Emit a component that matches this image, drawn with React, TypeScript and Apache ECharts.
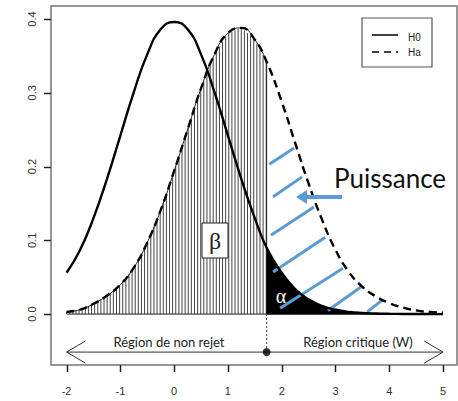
import React, { useEffect, useRef } from "react";
import * as echarts from "echarts";

// ---- data ----
const X_VALUES = [-2, -1.75, -1.5, -1.25, -1, -0.75, -0.5, -0.25, 0, 0.25, 0.5, 0.75, 1, 1.25, 1.5, 1.72, 2, 2.25, 2.5, 2.75, 3, 3.25, 3.5, 3.75, 4, 4.25, 4.5, 4.75, 5];
const H0_VALUES = [0.056, 0.087, 0.13, 0.183, 0.242, 0.301, 0.352, 0.386, 0.396, 0.386, 0.352, 0.301, 0.242, 0.183, 0.13, 0.09, 0.056, 0.034, 0.02, 0.011, 0.006, 0.003, 0.0015, 0.0008, 0.0004, 0.0002, 0.0001, 0.0001, 0];
const HA_VALUES = [0.003, 0.006, 0.014, 0.025, 0.04, 0.063, 0.097, 0.141, 0.194, 0.25, 0.306, 0.352, 0.381, 0.388, 0.372, 0.342, 0.288, 0.232, 0.177, 0.128, 0.087, 0.057, 0.037, 0.024, 0.015, 0.009, 0.005, 0.003, 0.002];
const CRITICAL = 1.72;
const X_TICKS = [-2, -1, 0, 1, 2, 3, 4, 5];
const Y_TICKS = [0, 0.1, 0.2, 0.3, 0.4];
// blue "puissance" strokes: [x1, y1, x2, y2]
const POWER_SEGMENTS = [
  [1.77, 0.203, 2.23, 0.225],
  [1.84, 0.159, 2.38, 0.186],
  [1.8, 0.107, 2.6, 0.145],
  [1.84, 0.057, 2.81, 0.104],
  [1.97, 0.008, 3.14, 0.062],
  [2.86, 0.005, 3.48, 0.037],
  [3.59, 0.003, 3.87, 0.019],
];
const ARROW_Y = -0.0515;
const ARROW_LEFT = -2;
const ARROW_RIGHT = 5;

// ---- axis extent & styling constants ----
const X_MIN = -2.29;
const X_MAX = 5.26;
const Y_MIN = -0.069;
const Y_MAX = 0.4176;
const GRID_LEFT = 51;
const GRID_TOP = 6;
const GRID_RIGHT = 1;
const GRID_BOTTOM = 36;
const W = 458;
const H = 401;
const TICK_LEN = 7;
const HATCH_STEP = 0.058;
const HEAD_DX = 0.35;
const HEAD_DY = 0.015;
const BLUE = "#5b9bd5";
const FRAME = "#777";

function interp(xs: number[], ys: number[], x: number) {
  for (let i = 0; i < xs.length - 1; i++) {
    if (x >= xs[i] && x <= xs[i + 1]) {
      const t = (x - xs[i]) / (xs[i + 1] - xs[i]);
      return ys[i] + t * (ys[i + 1] - ys[i]);
    }
  }
  return ys[ys.length - 1];
}

export default function App() {
  const ref = useRef<HTMLDivElement>(null);
  useEffect(() => {
    if (!ref.current) return;
    const chart = echarts.init(ref.current, undefined, { renderer: "svg" });
    const h0 = X_VALUES.map((x, i) => [x, H0_VALUES[i]]);
    const ha = X_VALUES.map((x, i) => [x, HA_VALUES[i]]);
    const haLeft = ha.filter((p) => p[0] <= CRITICAL + 1e-9);
    const h0Right = h0.filter((p) => p[0] >= CRITICAL - 1e-9);
    const haCrit = interp(X_VALUES, HA_VALUES, CRITICAL);

    // tick marks from the axis scale (linear mapping of the grid box)
    const plotW = W - GRID_LEFT - GRID_RIGHT;
    const plotH = H - GRID_TOP - GRID_BOTTOM;
    const bottomY = GRID_TOP + plotH;
    const tickGraphics: any[] = [];
    X_TICKS.forEach((t) => {
      const px = Math.round(GRID_LEFT + ((t - X_MIN) / (X_MAX - X_MIN)) * plotW) + 0.5;
      tickGraphics.push({ type: "line", shape: { x1: px, y1: bottomY, x2: px, y2: bottomY + TICK_LEN }, style: { stroke: "#222", lineWidth: 1.5 }, z: 30 });
    });
    Y_TICKS.forEach((t) => {
      const py = Math.round(GRID_TOP + ((Y_MAX - t) / (Y_MAX - Y_MIN)) * plotH) + 0.5;
      tickGraphics.push({ type: "line", shape: { x1: GRID_LEFT - TICK_LEN, y1: py, x2: GRID_LEFT, y2: py }, style: { stroke: "#222", lineWidth: 1.5 }, z: 30 });
    });

    const option: any = {
      animation: false,
      grid: {
        left: GRID_LEFT,
        top: GRID_TOP,
        right: GRID_RIGHT,
        bottom: GRID_BOTTOM,
        show: true,
        borderColor: FRAME,
        borderWidth: 1.5,
      },
      xAxis: {
        type: "value",
        min: X_MIN,
        max: X_MAX,
        axisLine: { show: false, onZero: false },
        splitLine: { show: false },
        axisTick: { show: false },
        axisLabel: {
          customValues: X_TICKS,
          margin: 20,
          fontFamily: "Liberation Sans",
          fontSize: 11,
          color: "#333",
          formatter: (v: number) => String(v),
        },
      },
      yAxis: {
        type: "value",
        min: Y_MIN,
        max: Y_MAX,
        axisLine: { show: false, onZero: false },
        splitLine: { show: false },
        axisTick: { show: false },
        axisLabel: {
          customValues: Y_TICKS,
          rotate: 90,
          margin: 14,
          fontFamily: "Liberation Sans",
          fontSize: 11,
          color: "#333",
          formatter: (v: number) => v.toFixed(1),
        },
      },
      series: [
        {
          // vertical hatch under Ha left of critical value
          type: "custom",
          data: [[0, 0]],
          silent: true,
          z: 1,
          renderItem: (_params: any, api: any) => {
            const children: any[] = [];
            for (let x = X_VALUES[0]; x <= CRITICAL + 1e-9; x += HATCH_STEP) {
              const top = interp(X_VALUES, HA_VALUES, x);
              const p0 = api.coord([x, 0]);
              const p1 = api.coord([x, top]);
              children.push({
                type: "line",
                shape: { x1: p0[0], y1: p0[1], x2: p1[0], y2: p1[1] },
                style: { stroke: "#444", lineWidth: 1 },
              });
            }
            const c0 = api.coord([CRITICAL, 0]);
            const c1 = api.coord([CRITICAL, haCrit]);
            const b0 = api.coord([X_VALUES[0], 0]);
            children.push({
              type: "line",
              shape: { x1: c0[0], y1: c0[1], x2: c1[0], y2: c1[1] },
              style: { stroke: "#222", lineWidth: 1 },
            });
            children.push({
              type: "line",
              shape: { x1: b0[0], y1: b0[1], x2: c0[0], y2: c0[1] },
              style: { stroke: "#222", lineWidth: 1 },
            });
            return { type: "group", children };
          },
        },
        {
          // hatch polygon border
          type: "line",
          data: haLeft,
          smooth: true,
          symbol: "none",
          silent: true,
          lineStyle: { color: "#222", width: 1 },
          z: 2,
        },
        {
          // alpha region
          type: "line",
          data: h0Right,
          smooth: true,
          symbol: "none",
          silent: true,
          lineStyle: { width: 0 },
          areaStyle: { color: "#000", opacity: 1, origin: "auto" },
          z: 3,
        },
        {
          type: "line",
          data: [[CRITICAL, 0], [5, 0]],
          symbol: "none",
          silent: true,
          lineStyle: { color: "#000", width: 1.5 },
          z: 3,
        },
        {
          // power strokes
          type: "custom",
          data: POWER_SEGMENTS,
          silent: true,
          z: 4,
          renderItem: (_params: any, api: any) => {
            const a = api.coord([api.value(0), api.value(1)]);
            const b = api.coord([api.value(2), api.value(3)]);
            return {
              type: "line",
              shape: { x1: a[0], y1: a[1], x2: b[0], y2: b[1] },
              style: { stroke: BLUE, lineWidth: 3 },
            };
          },
        },
        {
          name: "H0",
          type: "line",
          data: h0,
          smooth: true,
          symbol: "none",
          lineStyle: { color: "#000", width: 2.4 },
          z: 5,
        },
        {
          name: "Ha",
          type: "line",
          data: ha,
          smooth: true,
          symbol: "none",
          lineStyle: { color: "#000", width: 2.4, type: [8, 5] },
          z: 5,
        },
        {
          type: "line",
          data: [[CRITICAL, 0], [CRITICAL, ARROW_Y]],
          symbol: "none",
          silent: true,
          lineStyle: { color: "#333", width: 1, type: [2, 2] },
          z: 5,
        },
        {
          type: "line",
          data: [[ARROW_LEFT + HEAD_DX, ARROW_Y + HEAD_DY], [ARROW_LEFT, ARROW_Y], [ARROW_LEFT + HEAD_DX, ARROW_Y - HEAD_DY]],
          symbol: "none",
          silent: true,
          lineStyle: { color: "#333", width: 1 },
          z: 5,
        },
        {
          type: "line",
          data: [[ARROW_LEFT, ARROW_Y], [ARROW_RIGHT, ARROW_Y]],
          symbol: "none",
          silent: true,
          lineStyle: { color: "#333", width: 1 },
          z: 5,
        },
        {
          type: "line",
          data: [[ARROW_RIGHT - HEAD_DX, ARROW_Y + HEAD_DY], [ARROW_RIGHT, ARROW_Y], [ARROW_RIGHT - HEAD_DX, ARROW_Y - HEAD_DY]],
          symbol: "none",
          silent: true,
          lineStyle: { color: "#333", width: 1 },
          z: 5,
        },
        {
          type: "scatter",
          data: [[CRITICAL, ARROW_Y]],
          symbol: "circle",
          symbolSize: 8,
          silent: true,
          itemStyle: { color: "#000" },
          z: 6,
        },
      ],
      graphic: [
        // legend
        { type: "rect", shape: { x: 362, y: 18, width: 70, height: 49 }, style: { fill: "#fff", stroke: "#555", lineWidth: 1.2 }, z: 10 },
        { type: "line", shape: { x1: 372, y1: 35, x2: 398, y2: 35 }, style: { stroke: "#000", lineWidth: 1.5 }, z: 11 },
        { type: "line", shape: { x1: 372, y1: 52, x2: 398, y2: 52 }, style: { stroke: "#000", lineWidth: 1.5, lineDash: [7, 5] }, z: 11 },
        { type: "text", x: 408, y: 37, style: { text: "H0", font: "10px 'Liberation Sans'", fill: "#222", verticalAlign: "middle" }, z: 11 },
        { type: "text", x: 408, y: 52, style: { text: "Ha", font: "10px 'Liberation Sans'", fill: "#222", verticalAlign: "middle" }, z: 11 },
        // beta box
        { type: "rect", shape: { x: 202, y: 223, width: 26, height: 35 }, style: { fill: "#fff", stroke: "#222", lineWidth: 1 }, z: 10 },
        { type: "text", x: 215, y: 241, style: { text: "β", font: "24px 'Liberation Serif'", fill: "#222", align: "center", verticalAlign: "middle" }, z: 11 },
        // alpha
        { type: "text", x: 281, y: 296, style: { text: "α", font: "20px 'Liberation Serif'", fill: "#fff", align: "center", verticalAlign: "middle" }, z: 11 },
        // Puissance
        { type: "text", x: 334, y: 178, style: { text: "Puissance", font: "26px Lato", fill: "#111", verticalAlign: "middle" }, z: 11 },
        { type: "line", shape: { x1: 304, y1: 197, x2: 342, y2: 197 }, style: { stroke: BLUE, lineWidth: 4 }, z: 11 },
        { type: "polygon", shape: { points: [[296, 197], [307, 190], [307, 204]] }, style: { fill: BLUE }, z: 11 },
        // region labels
        { type: "text", x: 169, y: 342, style: { text: "Région de non rejet", font: "13px Lato", fill: "#222", align: "center", verticalAlign: "middle" }, z: 11 },
        { type: "text", x: 358, y: 342, style: { text: "Région critique (W)", font: "13px Lato", fill: "#222", align: "center", verticalAlign: "middle" }, z: 11 },
        ...tickGraphics,
      ],
    };
    chart.setOption(option);
    return () => chart.dispose();
  }, []);
  return <div ref={ref} style={{ position: "fixed", left: 0, top: 0, width: W, height: H, background: "#fff" }} />;
}
